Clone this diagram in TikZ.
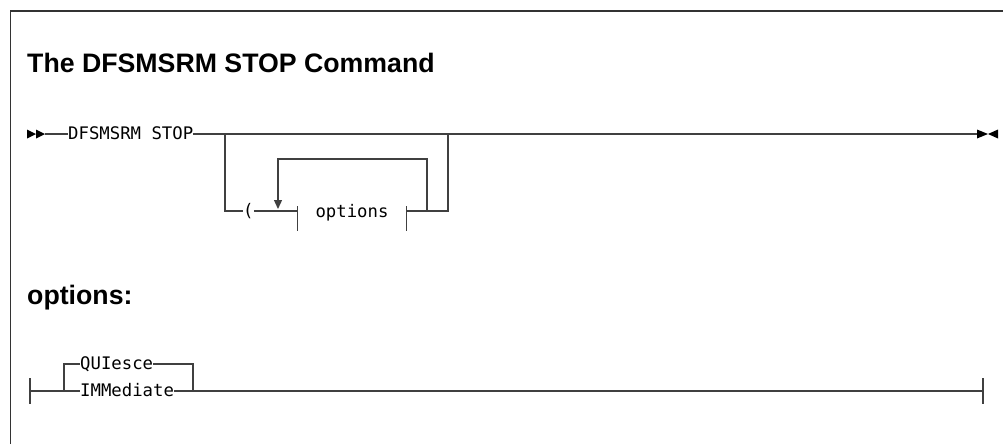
\documentclass[tikz,border=0pt]{standalone}
\usepackage{fontspec}
\setmainfont{Liberation Sans}
\setsansfont{Liberation Sans}
\setmonofont{DejaVu Sans Mono}
\usetikzlibrary{arrows.meta, positioning, calc}

\begin{document}
\begin{tikzpicture}[
    x=1pt, y=-1pt,
    rail/.style = {draw=black!75, line width=1.3pt},
    bar/.style = {draw=black!75, line width=1.3pt},
    kw/.style = {
        font=\ttfamily\fontsize{17.3}{18}\selectfont,
        inner sep=0pt, text height=11pt, text depth=0pt, anchor=west
    },
    heading/.style = {
        font=\sffamily\bfseries\fontsize{26.7}{30}\selectfont,
        inner sep=0pt, anchor=base west
    },
    tip/.style = {-{Triangle[width=8pt, length=9pt]}},
]
\useasboundingbox (0,0) rectangle (1003,444);
\draw[line width=1.2pt, draw=black!80] (10.5,444) |- (1003,11);

\node[heading] (title) at (27,73) {The DFSMSRM STOP Command};
\node[heading] (opthead) at (27,304) {options:};

% main syntax line
\coordinate (start) at (45,134);
\node[kw] (cmd) at (68,134) {DFSMSRM STOP};
\coordinate (fork) at (225,134);
\coordinate (join) at (448,134);
\coordinate (stop) at (977,134);
\node[kw] (paren) at (243,211) {(};
\node[kw, anchor=center, minimum width=108pt] (optref) at (352,212) {options};
\coordinate (loopj) at (427,211);
\coordinate (reenter) at (278,211);

\fill[black] (27,129.5) -- (36,134) -- (27,138.5) -- cycle;
\fill[black] (36,129.5) -- (45,134) -- (36,138.5) -- cycle;
\fill[black] (977,129.5) -- (988,134) -- (977,138.5) -- cycle;
\fill[black] (998,129.5) -- (988,134) -- (998,138.5) -- cycle;

\draw[rail] (start) -- (cmd.west);
\draw[rail] (cmd.east) -- (stop);
\draw[rail] (fork) |- (paren.west);
\draw[rail] (paren.east) -- (optref.west |- paren.east);
\draw[rail] (optref.east |- loopj) -| (join);
\draw[rail, tip] (loopj) -- ++(0,-52) -| ([yshift=2pt]reenter);
\draw[bar] ([yshift=6pt]optref.west) -- ([yshift=-19pt]optref.west);
\draw[bar] ([yshift=6pt]optref.east) -- ([yshift=-19pt]optref.east);

% options fragment
\coordinate (fstart) at (30,391);
\coordinate (fork2) at (64,391);
\node[kw] (quiesce) at (80,364) {QUIesce};
\node[kw] (immed) at (80,391) {IMMediate};
\coordinate (join2) at (193,391);
\coordinate (fend) at (983,391);

\draw[rail] (fstart) -- (immed.west);
\draw[rail] (fork2) |- (quiesce.west);
\draw[rail] (quiesce.east) -| (join2);
\draw[rail] (immed.east) -- (fend);
\draw[bar] ([yshift=13pt]fstart) -- ([yshift=-13pt]fstart);
\draw[bar] ([yshift=13pt]fend) -- ([yshift=-13pt]fend);

\end{tikzpicture}
\end{document}
